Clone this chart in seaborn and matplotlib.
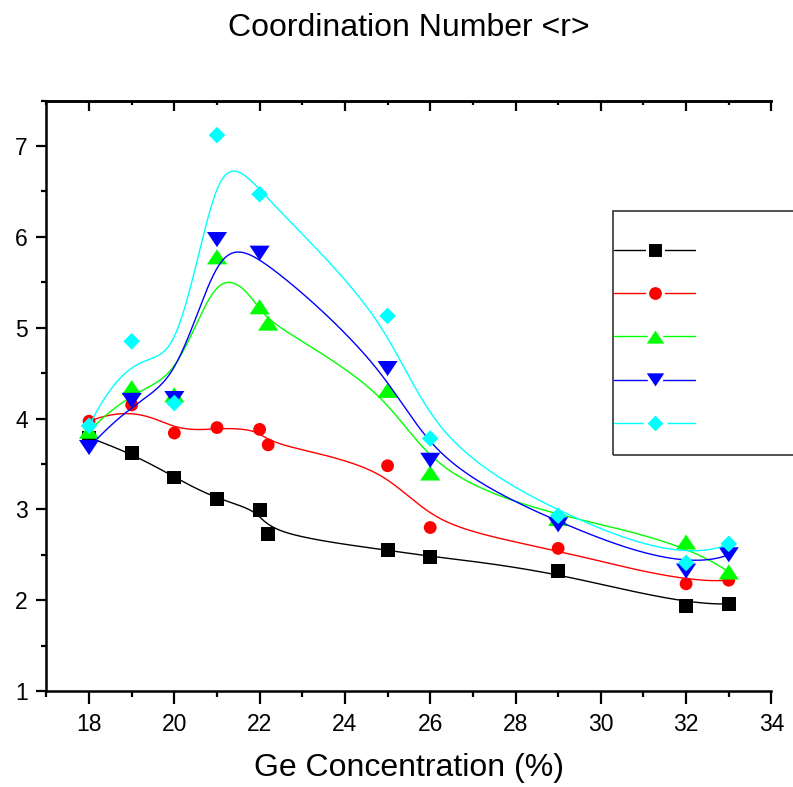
import numpy as np
import pandas as pd
import matplotlib
matplotlib.use("Agg")
import matplotlib.pyplot as plt
import seaborn as sns
from matplotlib.lines import Line2D
from matplotlib.patches import Rectangle
from matplotlib.ticker import MultipleLocator

# ---------------- data ----------------
x_a = [18, 19, 20, 21, 22, 22.2, 25, 26, 29, 32, 33]
x_b = [18, 19, 20, 21, 22, 25, 26, 29, 32, 33]

black = [3.79, 3.62, 3.35, 3.11, 2.99, 2.73, 2.55, 2.48, 2.32, 1.94, 1.96]
red = [3.97, 4.15, 3.84, 3.90, 3.88, 3.71, 3.48, 2.80, 2.57, 2.18, 2.22]
green = [3.86, 4.34, 4.26, 5.78, 5.23, 5.05, 4.31, 3.40, 2.90, 2.64, 2.31]
blue = [3.68, 4.20, 4.22, 5.97, 5.82, 4.55, 3.54, 2.83, 2.32, 2.50]
cyan = [3.92, 4.85, 4.17, 7.12, 6.47, 5.13, 3.78, 2.93, 2.41, 2.62]

x_ticks = [18, 20, 22, 24, 26, 28, 30, 32, 34]
y_ticks = [1, 2, 3, 4, 5, 6, 7]

tri_up = [(-1, -0.75), (1, -0.75), (0, 0.75), (-1, -0.75)]
tri_dn = [(-1, 0.75), (1, 0.75), (0, -0.75), (-1, 0.75)]

series = [
    ("s1", x_a, black, "#000000", "s", 100),
    ("s2", x_a, red, "#FF0000", "o", 85),
    ("s3", x_a, green, "#00FF00", tri_up, 210),
    ("s4", x_b, blue, "#0000FF", tri_dn, 210),
    ("s5", x_b, cyan, "#00FFFF", "D", 72),
]


def bspline(xs, ys, n=500, k=3):
    """Clamped uniform B-spline using the data points as control points."""
    P = np.column_stack([xs, ys]).astype(float)
    m = len(P)
    k = min(k, m - 1)
    knots = np.concatenate([np.zeros(k), np.arange(m - k + 1), np.full(k, m - k)]).astype(float)
    T = float(m - k)
    t = np.linspace(0, T, n)
    B = np.zeros((n, len(knots) - 1))
    for i in range(len(knots) - 1):
        B[:, i] = (knots[i] <= t) & (t < knots[i + 1])
    B[t >= T, m - 1] = 1.0
    for d in range(1, k + 1):
        Bn = np.zeros((n, len(knots) - 1 - d))
        for i in range(len(knots) - 1 - d):
            a = knots[i + d] - knots[i]
            b = knots[i + d + 1] - knots[i + 1]
            term = np.zeros(n)
            if a > 0:
                term += (t - knots[i]) / a * B[:, i]
            if b > 0:
                term += (knots[i + d + 1] - t) / b * B[:, i + 1]
            Bn[:, i] = term
        B = Bn
    C = B @ P
    return C[:, 0], C[:, 1]


sns.set_theme(style="ticks")
plt.rcParams["font.family"] = ["Liberation Sans", "DejaVu Sans"]
plt.rcParams["text.color"] = "black"
plt.rcParams["xtick.color"] = "black"
plt.rcParams["ytick.color"] = "black"
plt.rcParams["xtick.labelcolor"] = "black"
plt.rcParams["ytick.labelcolor"] = "black"

fig = plt.figure(figsize=(7.93, 7.87), dpi=100)
ax = fig.add_axes([46.4 / 793, 1 - 691 / 787, 725 / 793, 590.4 / 787])

for i, (name, xs, ys, col, mk, sz) in enumerate(series):
    cx, cy = bspline(xs, ys)
    curve = pd.DataFrame({"x": cx, "y": cy})
    sns.lineplot(data=curve, x="x", y="y", sort=False, estimator=None,
                 color=col, lw=1.0, ax=ax, zorder=2 + 2 * i)
    pts = pd.DataFrame({"x": xs, "y": ys})
    sns.scatterplot(data=pts, x="x", y="y", marker=mk, s=sz, color=col,
                    linewidth=0, edgecolor="none", ax=ax, zorder=3 + 2 * i)

ax.set_xlim(17, 34)
ax.set_ylim(1, 7.5)
ax.set_xticks(x_ticks)
ax.set_yticks(y_ticks)
ax.xaxis.set_minor_locator(MultipleLocator(1))
ax.yaxis.set_minor_locator(MultipleLocator(0.5))
ax.tick_params(axis="x", which="major", direction="out", length=9, width=1.6,
               labelsize=16.5, pad=7, colors="black")
ax.tick_params(axis="x", which="minor", direction="out", length=4.5, width=1.6, colors="black")
ax.tick_params(axis="y", which="major", direction="out", length=7.5, width=1.6,
               labelsize=16.5, pad=6, colors="black")
ax.tick_params(axis="y", which="minor", direction="out", length=3.8, width=1.6, colors="black")
for s in ["left", "bottom", "top"]:
    ax.spines[s].set_visible(True)
    ax.spines[s].set_linewidth(1.8)
    ax.spines[s].set_color("black")
ax.spines["right"].set_visible(False)

sec = ax.secondary_xaxis("top")
sec.set_xticks(x_ticks)
sec.xaxis.set_minor_locator(MultipleLocator(1))
sec.tick_params(axis="x", which="major", direction="in", length=7.5, width=1.6,
                labeltop=False, colors="black")
sec.tick_params(axis="x", which="minor", direction="in", length=3, width=1.6, colors="black")
sec.spines["top"].set_linewidth(1.8)
sec.spines["top"].set_color("black")

ax.set_xlabel("")
ax.set_ylabel("")
fig.text(409 / 793, 1 - 28 / 787, "Coordination Number <r>",
         ha="center", va="center", fontsize=23, color="black")
fig.text(409 / 793, 1 - 768 / 787, "Ge Concentration (%)", ha="center", va="center",
         fontsize=23, color="black")

# legend (markers only, no labels) in a box running off the right edge
handles = []
for name, xs, ys, col, mk, sz in series:
    handles.append(Line2D([0], [0], color=col, lw=1.0, marker=mk,
                          markersize=np.sqrt(sz) + 2.2, markerfacecolor=col,
                          markeredgecolor="white", markeredgewidth=2.2))
leg = fig.legend(handles, [" "] * 5, loc="upper left",
                 bbox_to_anchor=(614 / 793, 1 - 243.5 / 787),
                 frameon=False, borderpad=0, borderaxespad=0, fontsize=12,
                 handlelength=4.86, labelspacing=1.70, handletextpad=0.2)
fig.add_artist(Rectangle((613 / 793, 1 - 455 / 787), 200 / 793, 244 / 787,
                         transform=fig.transFigure, fill=False,
                         edgecolor="#333333", lw=1.2, clip_on=False))

fig.savefig("out.png", dpi=100)
